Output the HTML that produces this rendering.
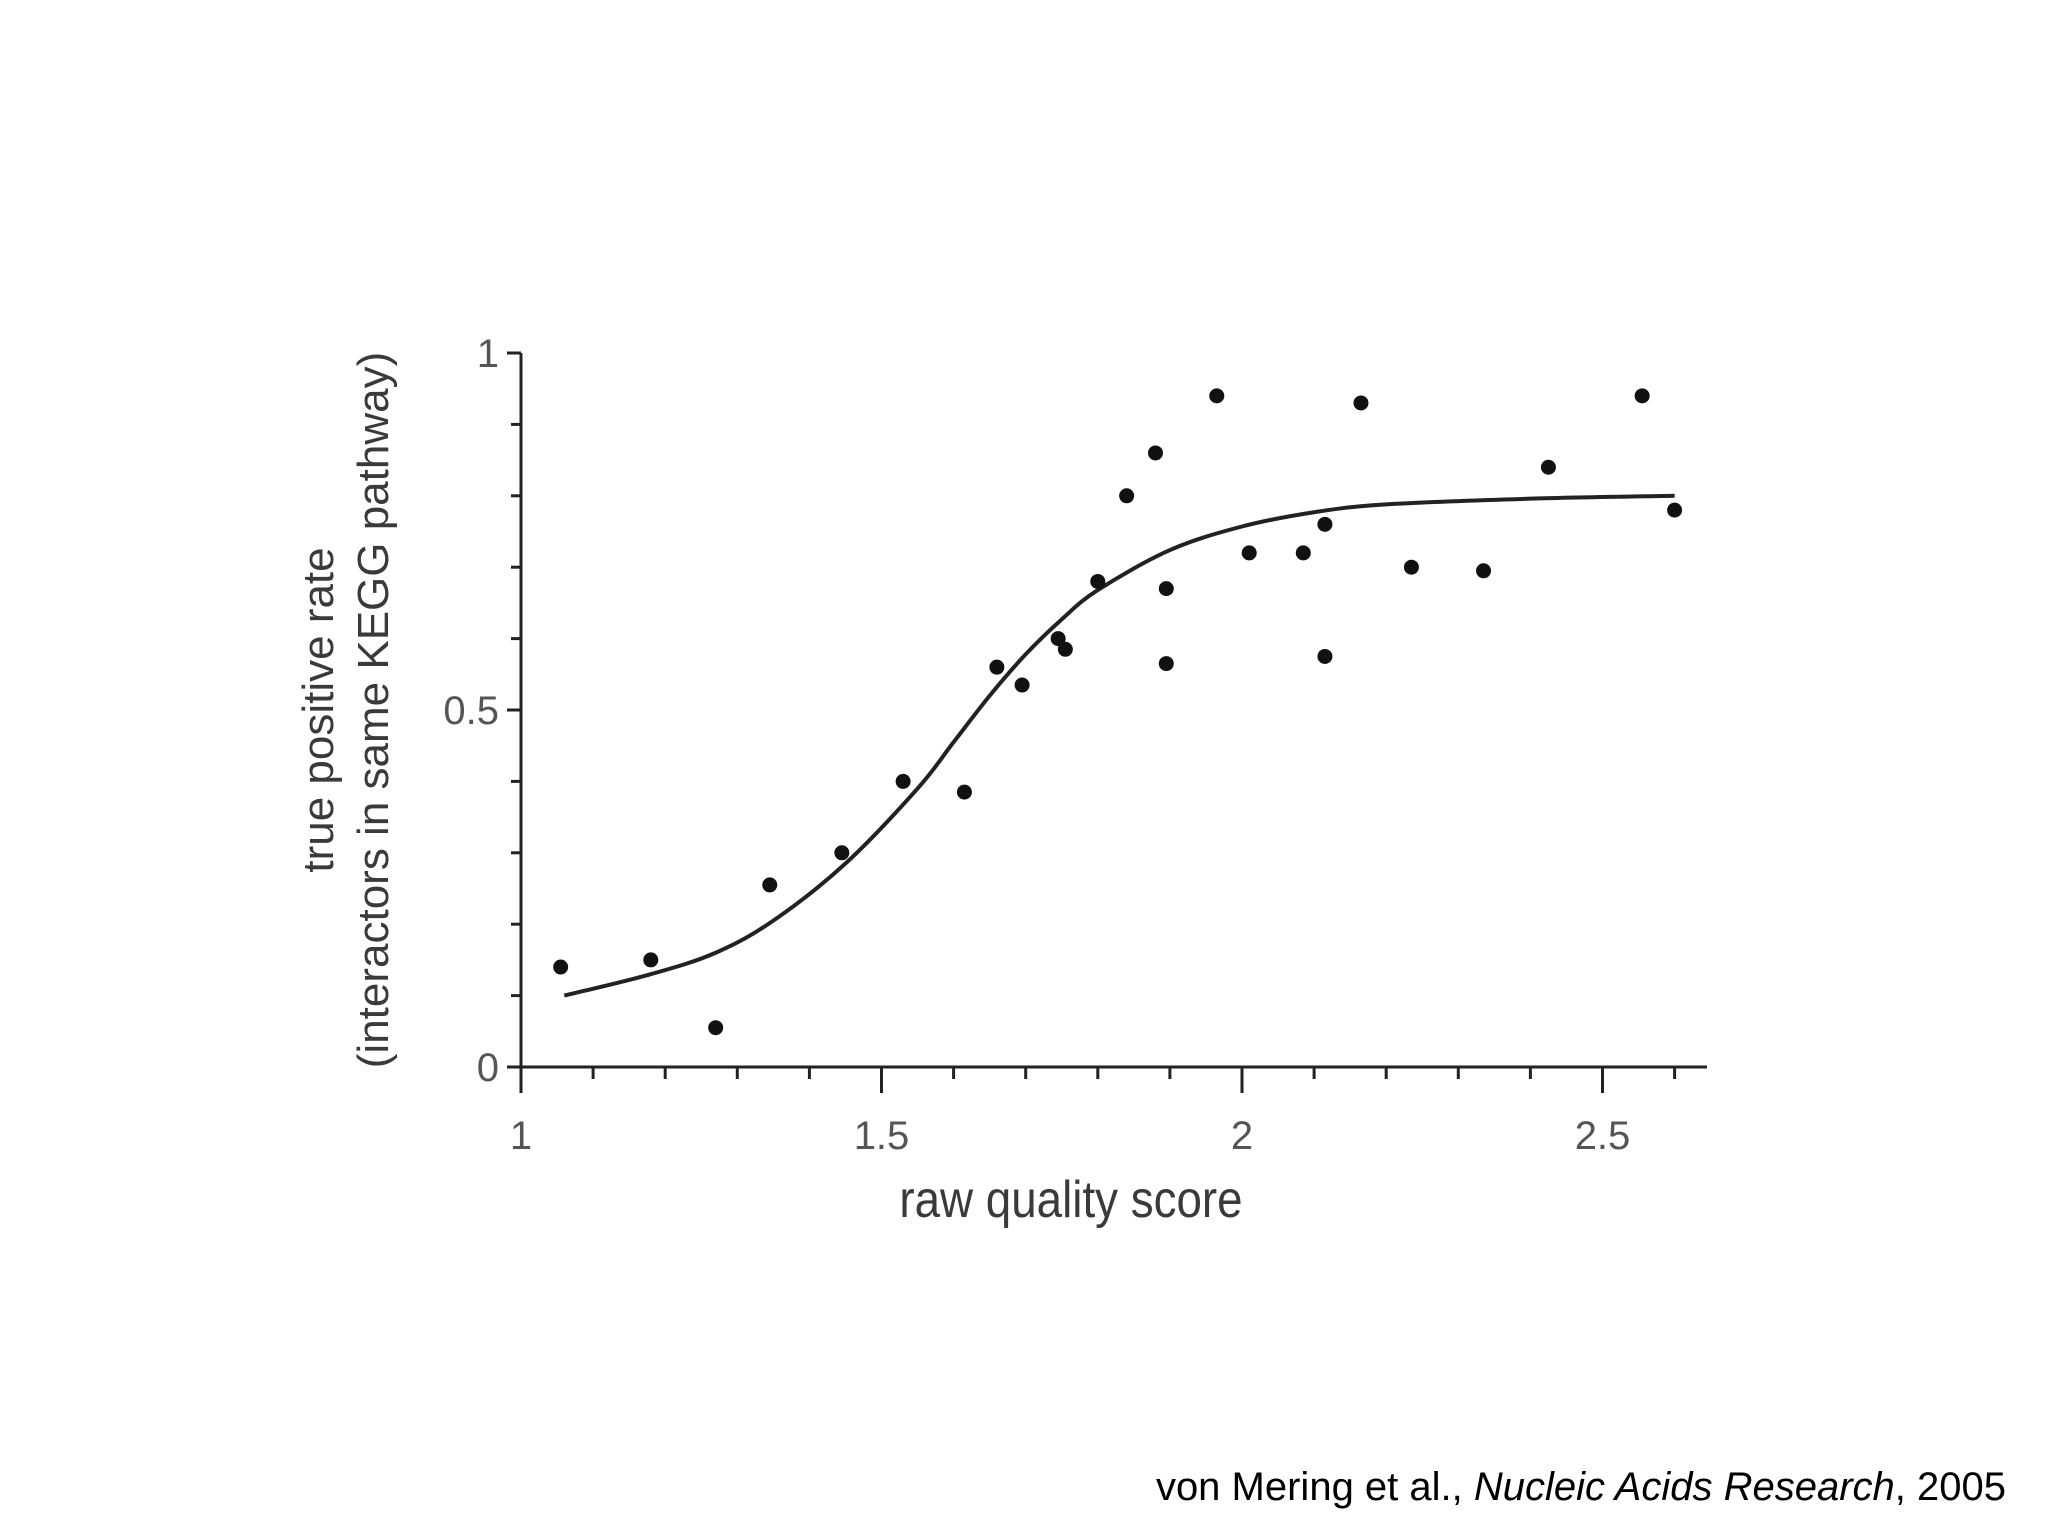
<!DOCTYPE html>
<html><head><meta charset="utf-8"><style>
html,body{margin:0;padding:0;background:#fff;}
svg{display:block}
</style></head><body>
<svg width="2048" height="1536" xmlns="http://www.w3.org/2000/svg">
<g id="axes"></g>
<g id="curve"></g>
<g id="dots"></g>
<text x="1071" y="1217" text-anchor="middle" font-family="Liberation Sans, sans-serif" font-size="52" fill="#3a3a3a" transform="translate(1071,0) scale(0.88,1) translate(-1071,0)">raw quality score</text>
<g transform="translate(0,710) rotate(-90)">
<text x="0" y="333" text-anchor="middle" font-family="Liberation Sans, sans-serif" font-size="44" fill="#3a3a3a">true positive rate</text>
<text x="0" y="388" text-anchor="middle" font-family="Liberation Sans, sans-serif" font-size="44" fill="#3a3a3a">(interactors in same KEGG pathway)</text>
</g>
<text x="2006" y="1500" text-anchor="end" font-family="Liberation Sans, Arial, sans-serif" font-size="40" fill="#000">von Mering et al., <tspan font-style="italic">Nucleic Acids Research</tspan>, 2005</text>
</svg>
<script>
const xTicks = [1, 1.5, 2, 2.5];
const xTickLabels = ["1", "1.5", "2", "2.5"];
const yTicks = [0, 0.5, 1];
const yTickLabels = ["0", "0.5", "1"];
const pointX = [1.055,1.18,1.27,1.345,1.445,1.53,1.615,1.66,1.695,1.745,1.755,1.8,1.84,1.88,1.895,1.895,1.965,2.01,2.085,2.115,2.115,2.165,2.235,2.335,2.425,2.555,2.6];
const pointY = [0.14,0.15,0.055,0.255,0.3,0.4,0.385,0.56,0.535,0.6,0.585,0.68,0.8,0.86,0.67,0.565,0.94,0.72,0.72,0.76,0.575,0.93,0.7,0.695,0.84,0.94,0.78];
const curveX = [1.06,1.18,1.27,1.35,1.45,1.55,1.6,1.65,1.7,1.75,1.8,1.9,2.0,2.1,2.2,2.4,2.6];
const curveY = [0.10,0.13,0.16,0.205,0.285,0.39,0.455,0.52,0.578,0.627,0.668,0.724,0.757,0.777,0.788,0.796,0.80];

const NS = "http://www.w3.org/2000/svg";
const x0 = 521, xPerUnit = 721, xEnd = 1707;
const y0 = 1067, y1 = 353;
function sx(v){ return x0 + (v - 1) * xPerUnit; }
function sy(v){ return y0 - v * (y0 - y1); }
function mk(tag, attrs, parent){
  const e = document.createElementNS(NS, tag);
  for (const k in attrs) e.setAttribute(k, attrs[k]);
  parent.appendChild(e);
  return e;
}
const axes = document.getElementById('axes');
const ax = mk('line', {x1:x0-14, y1:y0, x2:xEnd, y2:y0, stroke:'#222', 'stroke-width':3}, axes);


const ay = mk('line', {x1:x0, y1:y1, x2:x0, y2:y0, stroke:'#222', 'stroke-width':3}, axes);


for (let i = 0; i <= 16; i++) {
  const v = 1 + i * 0.1;
  if (sx(v) > xEnd) break;
  const major = i % 5 === 0;
  const t = mk('line', {x1:sx(v), y1:y0, x2:sx(v), y2:y0 + (major ? 26 : 12), stroke:'#222', 'stroke-width':3}, axes);
  
  
}
for (let i = 0; i <= 10; i++) {
  const v = i * 0.1;
  const major = i % 5 === 0;
  const t = mk('line', {x1:x0 - (major ? 14 : 10), y1:sy(v), x2:x0, y2:sy(v), stroke:'#222', 'stroke-width':3}, axes);
  
  
}
xTicks.forEach((v, i) => {
  const t = mk('text', {x:sx(v), y:y0 + 82, 'text-anchor':'middle', 'font-family':'Liberation Sans, sans-serif', 'font-size':40, fill:'#555'}, axes);
  t.textContent = xTickLabels[i];
  
  
});
yTicks.forEach((v, i) => {
  const t = mk('text', {x:x0 - 22, y:sy(v) + 14, 'text-anchor':'end', 'font-family':'Liberation Sans, sans-serif', 'font-size':40, fill:'#555'}, axes);
  t.textContent = yTickLabels[i];
  
  
});
const pts = curveX.map((v, i) => [sx(v), sy(curveY[i])]);
let d = 'M' + pts[0][0] + ',' + pts[0][1];
for (let i = 0; i < pts.length - 1; i++) {
  const p0 = pts[Math.max(0, i - 1)], p1 = pts[i], p2 = pts[i + 1], p3 = pts[Math.min(pts.length - 1, i + 2)];
  const c1 = [p1[0] + (p2[0] - p0[0]) / 6, p1[1] + (p2[1] - p0[1]) / 6];
  const c2 = [p2[0] - (p3[0] - p1[0]) / 6, p2[1] - (p3[1] - p1[1]) / 6];
  d += ' C' + c1[0] + ',' + c1[1] + ' ' + c2[0] + ',' + c2[1] + ' ' + p2[0] + ',' + p2[1];
}
const cp = mk('path', {d:d, fill:'none', stroke:'#222', 'stroke-width':4}, document.getElementById('curve'));


const dots = document.getElementById('dots');
pointX.forEach((v, i) => {
  const c = mk('circle', {cx:sx(v), cy:sy(pointY[i]), r:7.5, fill:'#111'}, dots);
  
  
});
</script>
</body></html>
